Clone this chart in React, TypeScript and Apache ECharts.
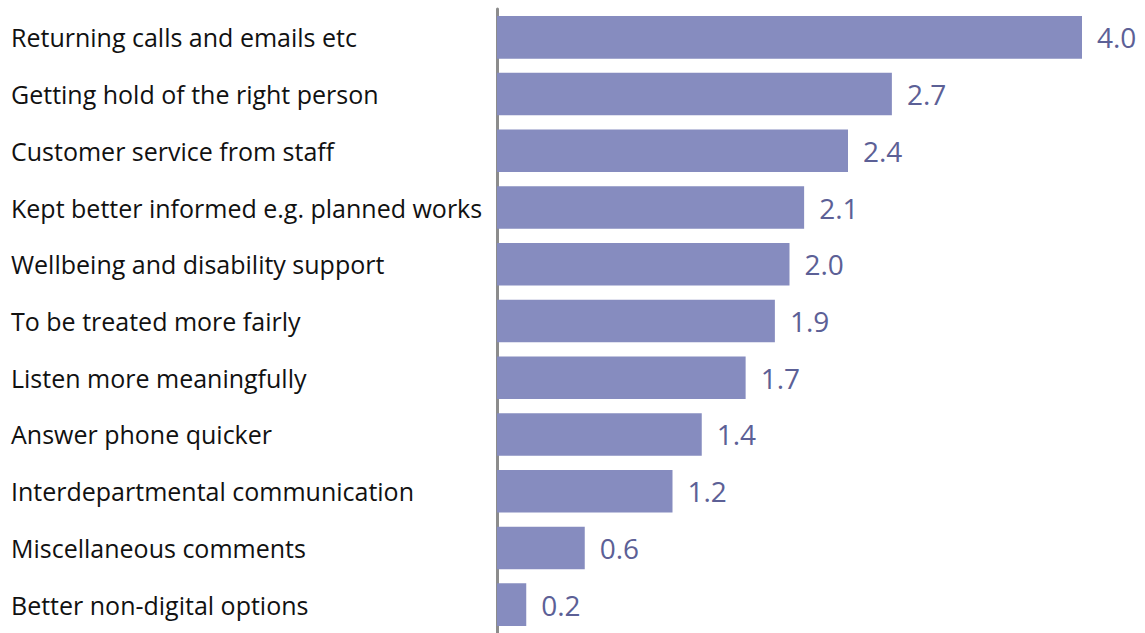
import React, { useEffect, useRef } from "react";
import * as echarts from "echarts";

const categories = [
  "Returning calls and emails etc",
  "Getting hold of the right person",
  "Customer service from staff",
  "Kept better informed e.g. planned works",
  "Wellbeing and disability support",
  "To be treated more fairly",
  "Listen more meaningfully",
  "Answer phone quicker",
  "Interdepartmental communication",
  "Miscellaneous comments",
  "Better non-digital options",
];
const values = [4.0, 2.7, 2.4, 2.1, 2.0, 1.9, 1.7, 1.4, 1.2, 0.6, 0.2];

export default function App() {
  const ref = useRef<HTMLDivElement>(null);
  useEffect(() => {
    if (!ref.current) return;
    const chart = echarts.init(ref.current, null, { renderer: "svg" });
    chart.setOption({
      animation: false,
      grid: { left: 497, top: 9, width: 585, height: 627 },
      xAxis: {
        type: "value",
        min: 0,
        max: 4,
        show: false,
      },
      yAxis: {
        type: "category",
        data: categories,
        inverse: true,
        axisLine: { show: true, lineStyle: { color: "#8c8c8c", width: 3 } },
        axisTick: { show: false },
        splitLine: { show: false },
        axisLabel: {
          align: "left",
          margin: 486,
          color: "#111111",
          fontSize: 25,
          fontFamily: "Open Sans",
          padding: [8, 0, 0, 0],
        },
      },
      series: [
        {
          type: "bar",
          data: values,
          barCategoryGap: "25%",
          itemStyle: { color: "#868cbf" },
          label: {
            show: true,
            position: "right",
            distance: 15,
            color: "#5c6096",
            fontSize: 28,
            fontFamily: "Open Sans",
            padding: [5, 0, 0, 0],
            formatter: (p: any) => Number(p.value).toFixed(1),
          },
        },
      ],
    });
    return () => chart.dispose();
  }, []);
  return (
    <div
      ref={ref}
      style={{ position: "fixed", left: 0, top: 0, width: 1145, height: 633, background: "#fff" }}
    />
  );
}
